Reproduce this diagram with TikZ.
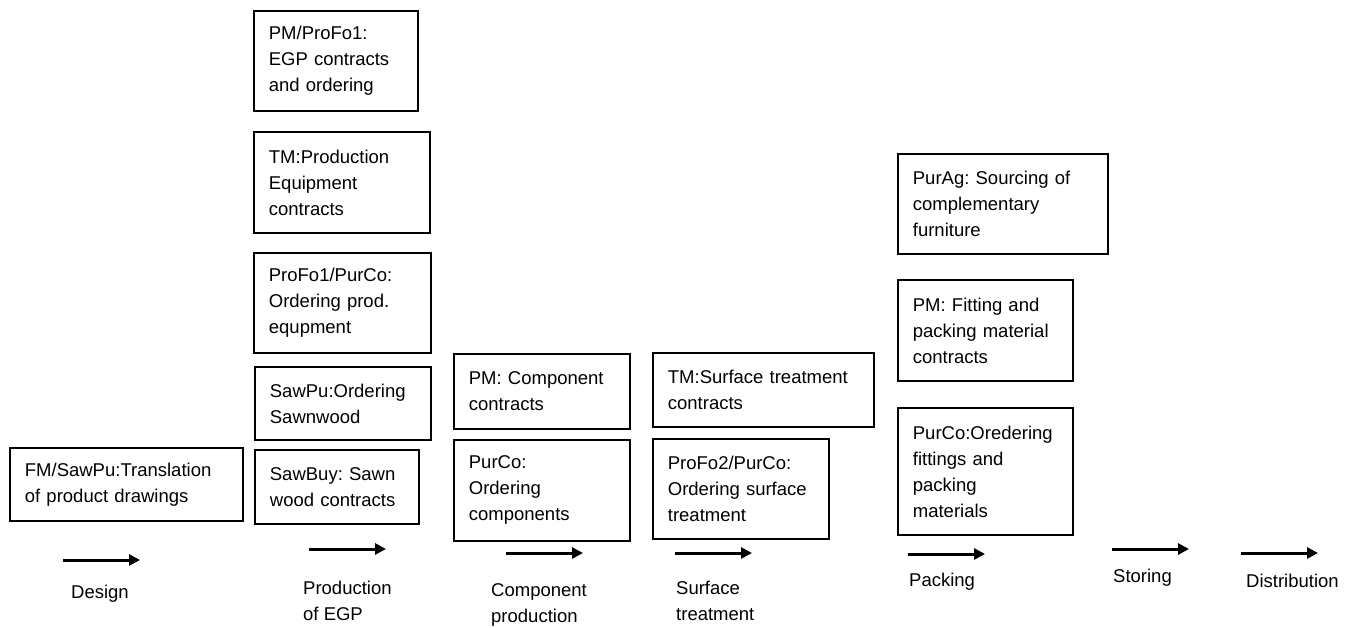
\documentclass[tikz,border=0pt]{standalone}
\usepackage{fontspec}
\setmainfont{Liberation Sans}
\usetikzlibrary{arrows.meta}

\begin{document}
\begin{tikzpicture}[x=1pt, y=-1pt,
    every node/.style={font=\fontsize{18.5}{26}\selectfont\frenchspacing, inner sep=0pt},
    task/.style={draw, line width=1.8pt, anchor=north west, align=left, inner xsep=15pt},
    stage/.style={anchor=north west, align=left},
    flow/.style={line width=3pt, -{Triangle[length=11pt, width=11pt]}}]
\useasboundingbox (0,0) rectangle (1355,628);
% activity boxes: name/x/y/width/height/text
\foreach \n/\x/\y/\w/\h/\t in {
    fm/9/447/233/73/{FM/SawPu:Translation\\of product drawings},
    pm1/253/10/164/100/{PM/ProFo1:\\EGP contracts\\and ordering},
    tm1/253/131/176/101/{TM:Production\\Equipment\\contracts},
    pc1/253/252/177/100/{ProFo1/PurCo:\\Ordering prod.\\equpment},
    sp/254/366/176/73/{SawPu:Ordering\\Sawnwood},
    sb/254/449/164/74/{SawBuy: Sawn\\wood contracts},
    pm2/453/353/176/75/{PM: Component\\contracts},
    pc2/453/439/176/101/{PurCo:\\Ordering\\components},
    tm2/652/352/221/74/{TM:Surface treatment\\contracts},
    pf2/652/438/176/100/{ProFo2/PurCo:\\Ordering surface\\treatment},
    pa/897/153/210/100/{PurAg: Sourcing of\\complementary\\furniture},
    pmf/897/279/175/101/{PM: Fitting and\\packing material\\contracts},
    pcf/897/407/175/127/{PurCo:Oredering\\fittings and\\packing\\materials}} {
    \pgfmathsetmacro\tw{\w-30}
    \node[task, minimum width=\w pt, minimum height=\h pt, text width=\tw pt] (\n) at (\x,\y) {\t};
}
% stage arrows
\foreach \n/\x/\y in {des/63/560, egp/309/549, com/506/553, sur/675/553, pac/908/554, sto/1112/549, dis/1241/553} {
    \coordinate (s\n) at (\x,\y);
    \coordinate (e\n) at (\x+77,\y);
    \draw[flow] (s\n) -- (e\n);
}
\node[anchor=base] (ldes) at (100,598) {Design};
\node[stage] (legp) at (303,581) {Production\\of EGP};
\node[stage] (lcom) at (491,583) {Component\\production};
\node[stage] (lsur) at (676,581) {Surface\\treatment};
\node[anchor=base west] (lpac) at (909,586) {Packing};
\node[anchor=base west] (lsto) at (1113,582) {Storing};
\node[anchor=base west] (ldis) at (1246,587) {Distribution};
\end{tikzpicture}
\end{document}
